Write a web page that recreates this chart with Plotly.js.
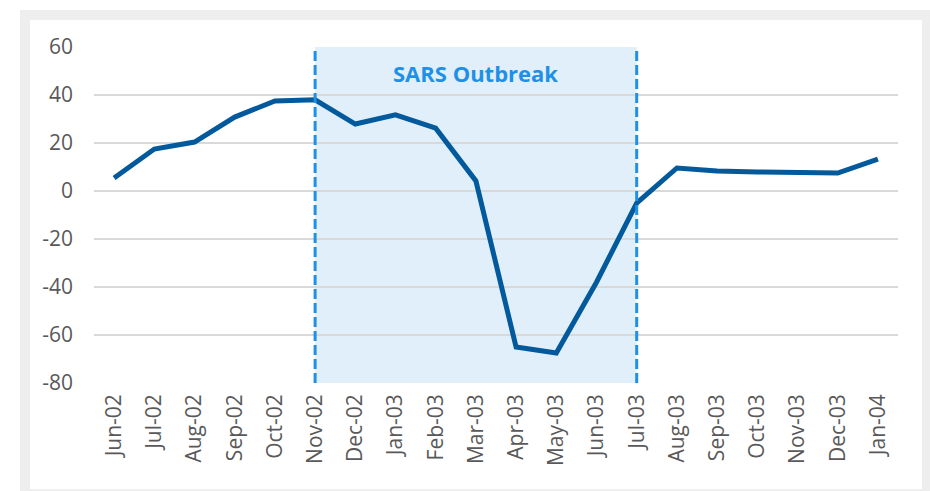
<!DOCTYPE html>
<html>
<head>
<meta charset="utf-8">
<script src="https://cdn.plot.ly/plotly-3.0.1.min.js"></script>
<style>
  body { margin: 0; background: #ffffff; }
  #frame { position: absolute; left: 20px; top: 10px; width: 910px; height: 481px; background: #eeeeee; }
  #plot { position: absolute; left: 10px; top: 10px; width: 892px; height: 469px; background: #ffffff; }
</style>
</head>
<body>
<div id="frame"><div id="plot"></div></div>
<script>
// monthly series, Jun-02 .. Jan-04
var months = ["Jun-02", "Jul-02", "Aug-02", "Sep-02", "Oct-02", "Nov-02", "Dec-02", "Jan-03",
  "Feb-03", "Mar-03", "Apr-03", "May-03", "Jun-03", "Jul-03", "Aug-03", "Sep-03",
  "Oct-03", "Nov-03", "Dec-03", "Jan-04"];
var values = [5.4, 17.5, 20.4, 30.8, 37.5, 38, 27.9, 31.7, 26.2, 4.2,
  -65, -67.5, -38, -5, 9.6, 8.3, 7.9, 7.9, 7.5, 13.3];

// y ticks, with a plain hyphen like the original
var yTicks = [-80, -60, -40, -20, 0, 20, 40, 60];
var yTickText = ["-80", "-60", "-40", "-20", "0", "20", "40", "60"];

var outbreakStart = "Nov-02";
var outbreakEnd = "Jul-03";
var outbreakLabel = "SARS Outbreak";

var trace1 = {
  x: months,
  y: values,
  type: "scatter",
  mode: "lines",
  line: { color: "#02599c", width: 5 },
  hoverinfo: "x+y"
};

var data = [trace1];

var i0 = months.indexOf(outbreakStart);
var i1 = months.indexOf(outbreakEnd);

var layout = {
  width: 892,
  height: 469,
  margin: { l: 64, r: 24, t: 27, b: 106 },
  paper_bgcolor: "#ffffff",
  plot_bgcolor: "#ffffff",
  showlegend: false,
  font: { family: "Open Sans", color: "#595959", size: 21 },
  xaxis: {
    type: "category",
    range: [-0.5, months.length - 0.5],
    tickangle: -90,
    showgrid: false,
    zeroline: false,
    showline: false,
    ticks: "",
    ticklabelstandoff: 6,
    tickfont: { size: 21, color: "#595959" }
  },
  yaxis: {
    range: [-80, 60],
    tickmode: "array",
    tickvals: yTicks,
    ticktext: yTickText,
    showgrid: true,
    gridcolor: "#d9d9d9",
    gridwidth: 1.5,
    zeroline: false,
    showline: false,
    ticks: "",
    ticklabelstandoff: 20,
    tickfont: { size: 21, color: "#595959" }
  },
  shapes: [
    {
      type: "rect", layer: "below", xref: "x", yref: "y",
      x0: i0, x1: i1, y0: -80, y1: 60,
      fillcolor: "#e1effa", line: { width: 0 }
    },
    {
      type: "line", layer: "above", xref: "x", yref: "y",
      x0: i0, x1: i0, y0: -80, y1: 60,
      line: { color: "#1e90e8", width: 3, dash: "10px,4px" }
    },
    {
      type: "line", layer: "above", xref: "x", yref: "y",
      x0: i1, x1: i1, y0: -80, y1: 60,
      line: { color: "#1e90e8", width: 3, dash: "10px,4px" }
    }
  ],
  annotations: [
    {
      x: (i0 + i1) / 2, y: 49, xref: "x", yref: "y",
      text: "<b>" + outbreakLabel + "</b>",
      showarrow: false,
      font: { family: "Open Sans", size: 22, color: "#1e90e8" }
    }
  ]
};

Plotly.newPlot("plot", data, layout, { displayModeBar: false });
</script>
</body>
</html>
